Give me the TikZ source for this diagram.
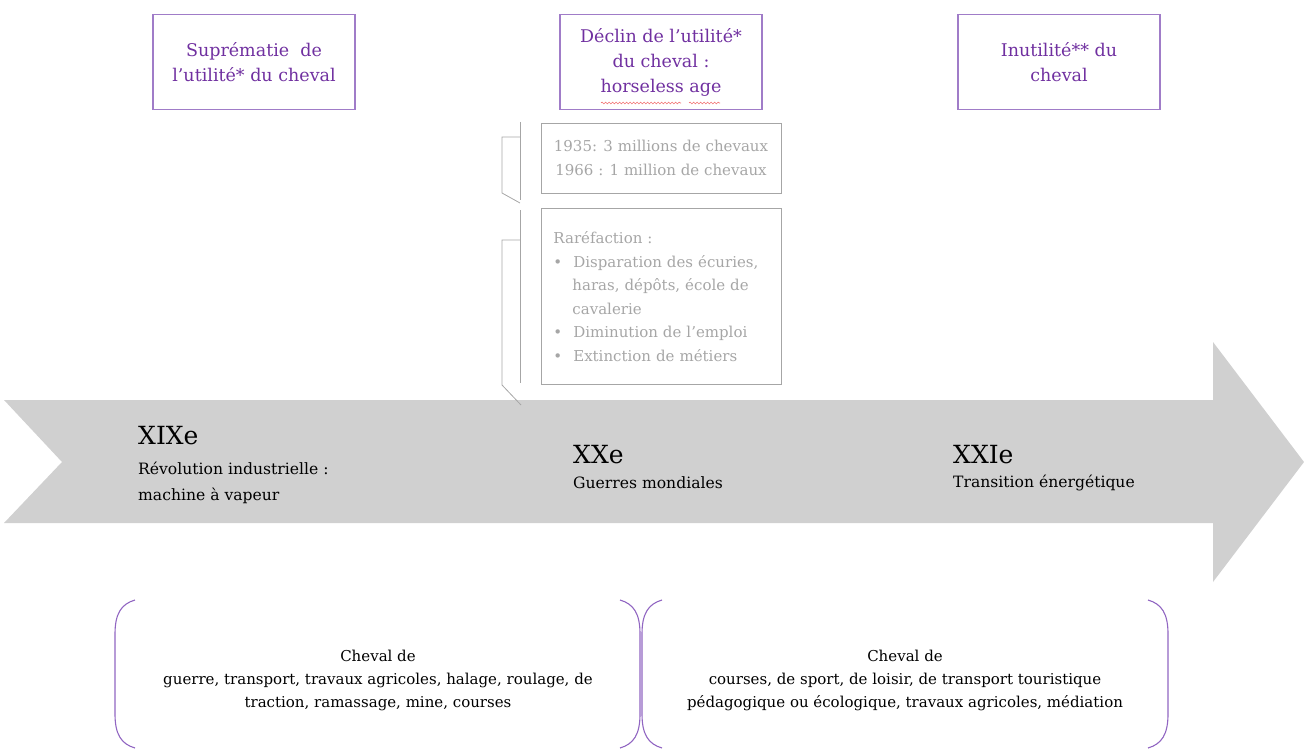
\documentclass[tikz,border=0pt]{standalone}
\usepackage{fontspec}
\setmainfont{DejaVu Serif}
\usetikzlibrary{decorations.pathmorphing}

\definecolor{purpletext}{HTML}{7030A0}
\definecolor{purpleline}{HTML}{A07CC8}
\definecolor{bracketline}{HTML}{9166C2}
\definecolor{graytext}{HTML}{A6A6A6}
\definecolor{arrowgray}{HTML}{D0D0D0}
\definecolor{spellred}{HTML}{F07070}

\tikzset{
  topbox/.style={draw=purpleline, line width=1.2pt, text=purpletext, align=center,
    minimum width=202pt, minimum height=95pt, inner sep=0pt,
    font=\fontsize{17.5}{25}\selectfont},
  graybox/.style={draw=graytext, line width=0.9pt, text=graytext, inner sep=0pt,
    minimum width=240pt, font=\fontsize{15}{23.5}\selectfont},
  century/.style={anchor=west, inner sep=0pt, font=\fontsize{25}{28}\selectfont},
  period/.style={anchor=west, inner sep=0pt, align=left, font=\fontsize{15.6}{25.5}\selectfont},
  usebox/.style={align=center, inner sep=0pt, font=\fontsize{15}{23}\selectfont},
  bracket/.style={draw=bracketline, line width=1.1pt},
  callout/.style={draw=graytext, line width=0.8pt},
  squiggle/.style={draw=spellred, line width=0.6pt,
    decorate, decoration={snake, amplitude=0.9pt, segment length=3.5pt}}
}

\begin{document}
\begin{tikzpicture}[x=1pt, y=-1pt]
  \useasboundingbox (0, 0) rectangle (1304, 749);

  % big time arrow
  \fill[arrowgray] (4, 400) -- (1213, 400) -- (1213, 342) -- (1304, 462)
    -- (1213, 582) -- (1213, 523) -- (4, 523) -- (62, 462) -- cycle;

  % top boxes
  \node[topbox] (supr) at (254, 62) {Suprématie~ de\\l'utilité* du cheval};
  \node[topbox] (decl) at (661, 62) {Déclin de l'utilité*\\du cheval :\\horseless age};
  \node[topbox] (inut) at (1059, 62) {Inutilité** du\\cheval};

  % spell check marks
  \draw[squiggle] (601, 103) -- (681, 103);
  \draw[squiggle] (689, 103) -- (720, 103);

  % gray boxes
  \node[graybox, minimum height=70pt, align=center] (chiffres) at (661, 158)
    {1935: 3 millions de chevaux\\1966 : 1 million de chevaux};
  \node[graybox, minimum height=176pt, text width=216pt, inner xsep=12pt,
    align=left, anchor=north west] (rare) at (541, 208)
    {Raréfaction :\\
     \textbullet\hspace{11pt}Disparation des écuries,\\
     \hspace{19pt}haras, dépôts, école de\\
     \hspace{19pt}cavalerie\\
     \textbullet\hspace{11pt}Diminution de l'emploi\\
     \textbullet\hspace{11pt}Extinction de métiers};

  % callout brackets
  \draw[callout] (520, 122) -- (520, 200);
  \draw[callout] (520, 137) -- (502, 137) -- (502, 193) -- (520, 203);
  \draw[callout] (520, 210) -- (520, 383);
  \draw[callout] (520, 240) -- (502, 240) -- (502, 385) -- (521, 405);

  % centuries on the arrow
  \node[century] (xix) at (138, 436) {XIXe};
  \node[period] (revo) at (138, 483) {Révolution industrielle :\\machine à vapeur};
  \node[century] (xx) at (573, 455) {XXe};
  \node[period] (guer) at (573, 483) {Guerres mondiales};
  \node[century] (xxi) at (953, 455) {XXIe};
  \node[period] (tran) at (953, 483) {Transition énergétique};

  % bottom bracket boxes
  \draw[bracket] (135, 600) .. controls (121, 604) and (115, 614) .. (115, 634)
    -- (115, 714) .. controls (115, 734) and (121, 744) .. (135, 748);
  \draw[bracket] (620, 600) .. controls (634, 604) and (640, 614) .. (640, 634)
    -- (640, 714) .. controls (640, 734) and (634, 744) .. (620, 748);
  \draw[bracket] (662, 600) .. controls (648, 604) and (642, 614) .. (642, 634)
    -- (642, 714) .. controls (642, 734) and (648, 744) .. (662, 748);
  \draw[bracket] (1148, 600) .. controls (1162, 604) and (1168, 614) .. (1168, 634)
    -- (1168, 714) .. controls (1168, 734) and (1162, 744) .. (1148, 748);

  \node[usebox] (hier) at (378, 680)
    {Cheval de\\guerre, transport, travaux agricoles, halage, roulage, de\\traction, ramassage, mine, courses};
  \node[usebox] (auj) at (905, 680)
    {Cheval de\\courses, de sport, de loisir, de transport touristique\\pédagogique ou écologique, travaux agricoles, médiation};
\end{tikzpicture}
\end{document}
